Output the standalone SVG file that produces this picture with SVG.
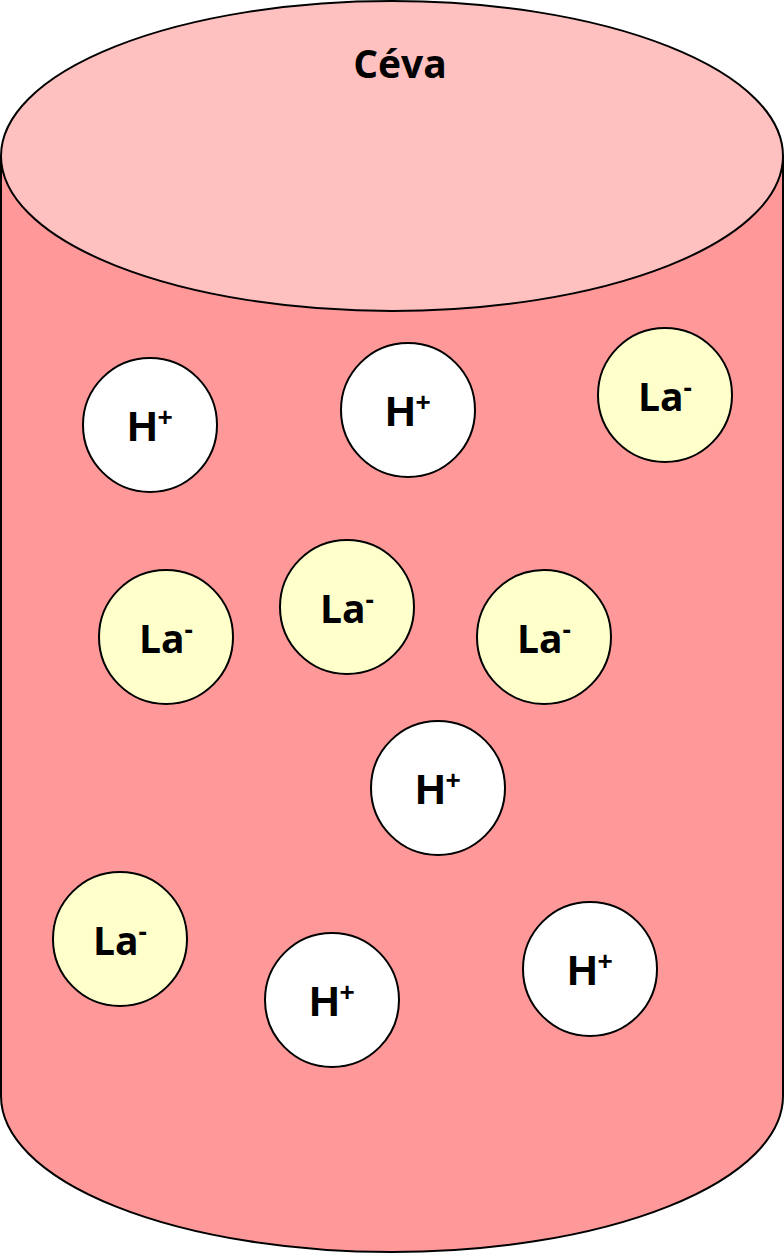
<svg xmlns="http://www.w3.org/2000/svg" width="784" height="1254" viewBox="0 0 784 1254">
  <style>
    .body { fill: #FF9999; stroke: #000; stroke-width: 2; }
    .lid { fill: #FFC0C0; stroke: #000; stroke-width: 2; }
    .ion { stroke: #000; stroke-width: 2; }
    .h { fill: #FFFFFF; }
    .la { fill: #FFFFCC; }
    .lbl { font-family: "Liberation Sans", Arial, sans-serif; font-weight: bold; font-size: 42px; fill: #000; text-anchor: middle; }
    .lbl2 { font-family: "Open Sans", "Liberation Sans", sans-serif; font-weight: bold; font-size: 39px; fill: #000; text-anchor: middle; }
    .sup { font-size: 26px; }
  </style>

  <!-- vessel -->
  <g id="vessel">
    <path class="body" d="M1,156 L1,1096 A391,156 0 0 0 783,1096 L783,156 Z"/>
    <ellipse class="lid" cx="392" cy="156" rx="391" ry="155"/>
    <text class="lbl2" x="400" y="78">Céva</text>
  </g>

  <!-- ions -->
  <g id="h1"><circle class="ion h" cx="150" cy="425" r="67"/><text class="lbl" x="150" y="441">H<tspan class="sup" dy="-15">+</tspan></text></g>
  <g id="h2"><circle class="ion h" cx="408" cy="410" r="67"/><text class="lbl" x="408" y="426">H<tspan class="sup" dy="-15">+</tspan></text></g>
  <g id="la1"><circle class="ion la" cx="665" cy="395" r="67"/><text class="lbl2" x="665" y="411">La<tspan class="sup" dy="-14">-</tspan></text></g>
  <g id="la2"><circle class="ion la" cx="166" cy="637" r="67"/><text class="lbl2" x="166" y="653">La<tspan class="sup" dy="-14">-</tspan></text></g>
  <g id="la3"><circle class="ion la" cx="347" cy="607" r="67"/><text class="lbl2" x="347" y="623">La<tspan class="sup" dy="-14">-</tspan></text></g>
  <g id="la4"><circle class="ion la" cx="544" cy="637" r="67"/><text class="lbl2" x="544" y="653">La<tspan class="sup" dy="-14">-</tspan></text></g>
  <g id="h3"><circle class="ion h" cx="438" cy="788" r="67"/><text class="lbl" x="438" y="804">H<tspan class="sup" dy="-15">+</tspan></text></g>
  <g id="la5"><circle class="ion la" cx="120" cy="939" r="67"/><text class="lbl2" x="120" y="955">La<tspan class="sup" dy="-14">-</tspan></text></g>
  <g id="h4"><circle class="ion h" cx="332" cy="1000" r="67"/><text class="lbl" x="332" y="1016">H<tspan class="sup" dy="-15">+</tspan></text></g>
  <g id="h5"><circle class="ion h" cx="590" cy="969" r="67"/><text class="lbl" x="590" y="985">H<tspan class="sup" dy="-15">+</tspan></text></g>

  <g id="connectors"/>
</svg>
